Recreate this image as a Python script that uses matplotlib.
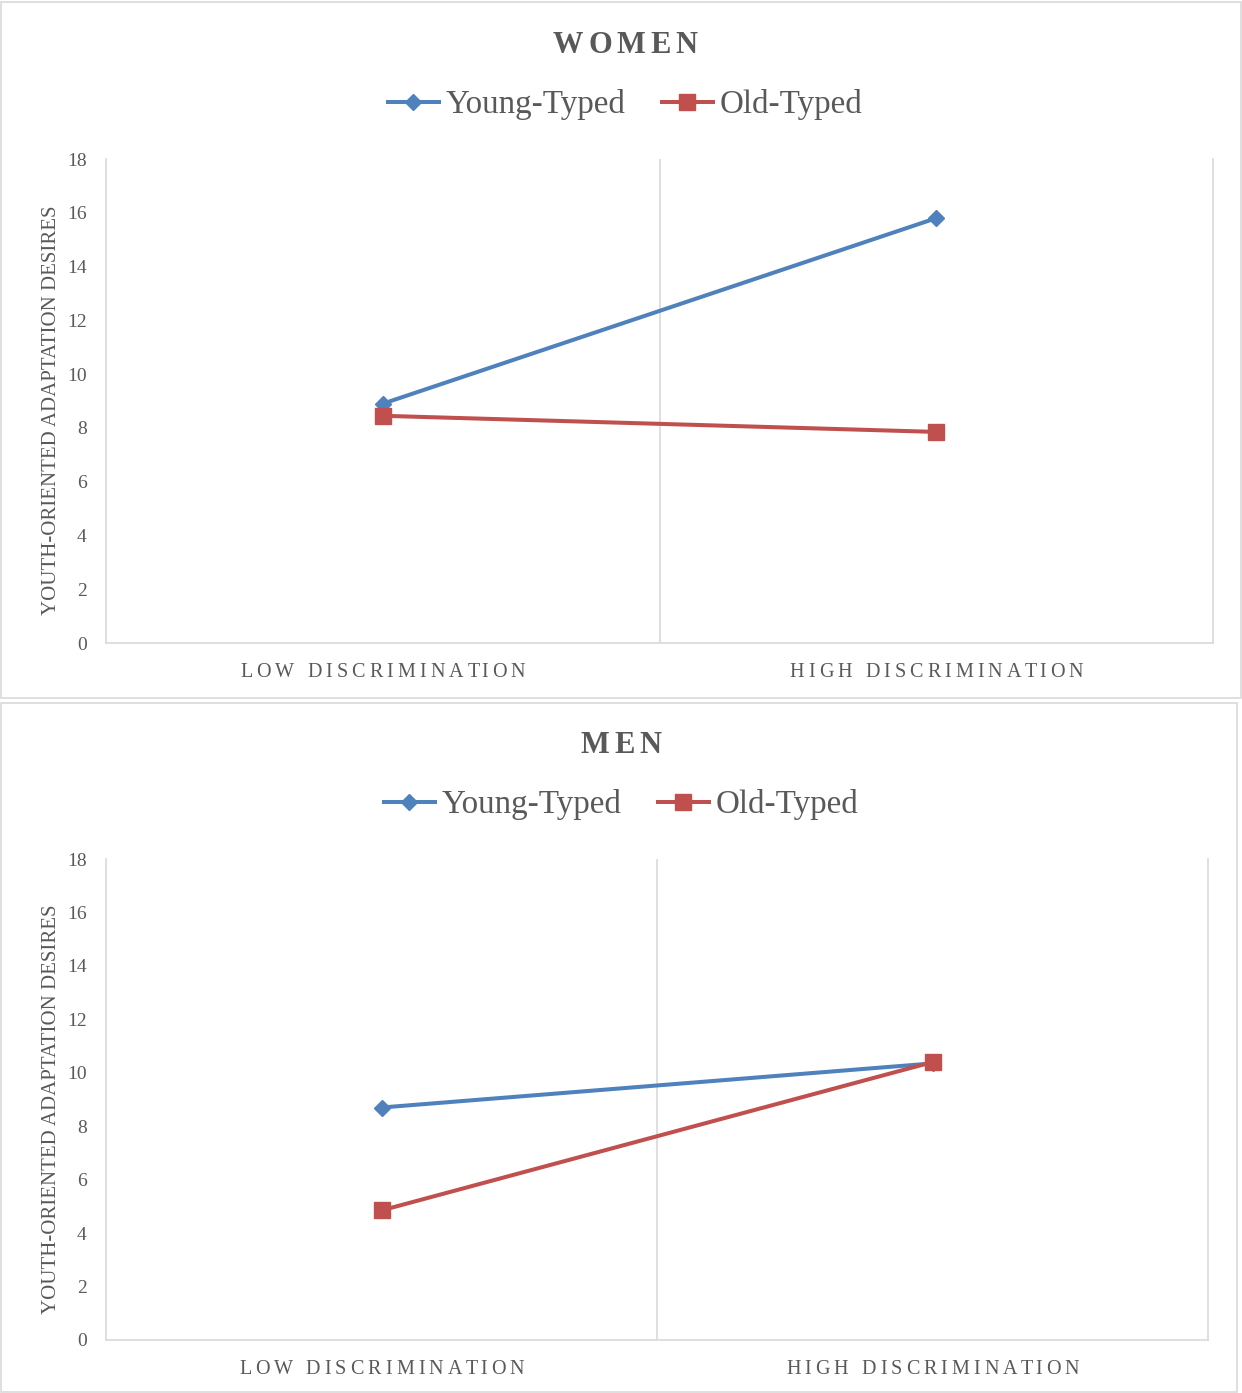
import matplotlib
matplotlib.use("Agg")
import matplotlib.pyplot as plt
from matplotlib.patches import Rectangle
from matplotlib.lines import Line2D
from matplotlib.font_manager import FontProperties
from matplotlib.textpath import TextToPath

categories = ["LOW DISCRIMINATION", "HIGH DISCRIMINATION"]
women_young = [8.9, 15.8]
women_old = [8.45, 7.85]
men_young = [8.7, 10.35]
men_old = [4.85, 10.4]
yticks = [0, 2, 4, 6, 8, 10, 12, 14, 16, 18]
series_names = ["Young-Typed", "Old-Typed"]
ylabel = "YOUTH-ORIENTED ADAPTATION DESIRES"

BLUE = "#4F81BD"
RED = "#C0504D"
GRID = "#D9D9D9"
TXT = "#595959"
FONT = "Liberation Serif"
DPI = 100
LW = 2.9

W, H = 1242, 1393
fig = plt.figure(figsize=(W / DPI, H / DPI), dpi=DPI)
t2p = TextToPath()


def text_w_px(s, prop):
    if not s:
        return 0.0
    w, h, d = t2p.get_text_width_height_descent(s, prop, ismath=False)
    return w * DPI / 72.0


def spaced_text(xc_px, ybase_px, s, prop, target_w_px):
    natural = text_w_px(s, prop)
    n = len(s)
    sp = (target_w_px - natural) / (n - 1)
    total = natural + sp * (n - 1)
    x0 = xc_px - total / 2
    for i, ch in enumerate(s):
        xo = x0 + text_w_px(s[:i], prop) + i * sp
        fig.text(xo / W, 1 - ybase_px / H, ch, fontproperties=prop, color=TXT,
                 ha="left", va="baseline")


def px(x0, y0, x1, y1):
    return [x0 / W, 1 - y1 / H, (x1 - x0) / W, (y1 - y0) / H]


tick_prop = FontProperties(family=FONT, size=14.5)
title_prop = FontProperties(family=FONT, size=22, weight="bold")


def panel(box, axbox, title, title_w, title_base, legend_y, cx, xlab_base, xlab_ws, young, old):
    bx0, by0, bx1, by1 = box
    fig.patches.append(Rectangle((bx0 / W, 1 - by1 / H), (bx1 - bx0) / W, (by1 - by0) / H,
                                 transform=fig.transFigure, fill=False,
                                 edgecolor=GRID, linewidth=1.2, zorder=0))
    ax = fig.add_axes(px(*axbox))
    x = [1, 2]
    ax.plot(x, young, color=BLUE, linewidth=LW, marker="D", markersize=8.5,
            markeredgecolor=BLUE, solid_capstyle="round", zorder=3)
    ax.plot(x, old, color=RED, linewidth=LW, marker="s", markersize=11.5,
            markeredgecolor=RED, solid_capstyle="round", zorder=4)
    ax.set_xlim(0.5, 2.5)
    ax.set_ylim(0, 18)
    ax.set_yticks(yticks)
    ax.set_yticklabels([str(t) for t in yticks], fontfamily=FONT, fontsize=14, color=TXT)
    ax.set_xticks(x)
    ax.set_xticklabels([])
    ax.tick_params(axis="both", length=0)
    ax.tick_params(axis="y", pad=14)
    ax.axvline(1.5, color=GRID, linewidth=1.2, zorder=1)
    for s in ["left", "right", "bottom"]:
        ax.spines[s].set_color(GRID)
        ax.spines[s].set_linewidth(1.2)
    ax.spines["top"].set_visible(False)
    ax.set_ylabel(ylabel, fontfamily=FONT, fontsize=15, color=TXT)
    ax.yaxis.set_label_coords(-0.041, 0.48)
    ax_x0, ax_x1 = axbox[0], axbox[2]
    for xi, lab, tw in zip(x, categories, xlab_ws):
        xc = ax_x0 + (xi - 0.5) / 2.0 * (ax_x1 - ax_x0)
        spaced_text(xc, xlab_base, lab, tick_prop, tw)
    spaced_text(cx, title_base, title, title_prop, title_w)
    handles = [Line2D([], [], color=BLUE, linewidth=LW, marker="D", markersize=8.5),
               Line2D([], [], color=RED, linewidth=LW, marker="s", markersize=11.5)]
    fig.legend(handles, series_names, loc="center", ncol=2,
               bbox_to_anchor=(cx / W, 1 - legend_y / H), frameon=False,
               prop={"family": FONT, "size": 23.8}, handlelength=1.55,
               handletextpad=0.2, columnspacing=1.1, labelcolor=TXT)
    return ax


panel((1, 2, 1241, 698), (106, 159, 1213, 643), "WOMEN", 144, 53, 105, 625,
      677, (285, 293), women_young, women_old)
panel((1, 703, 1237, 1392), (106, 859, 1208, 1340), "MEN", 81, 753, 805, 621,
      1374, (285, 293), men_young, men_old)

fig.savefig("out.png", dpi=DPI, facecolor="white")
